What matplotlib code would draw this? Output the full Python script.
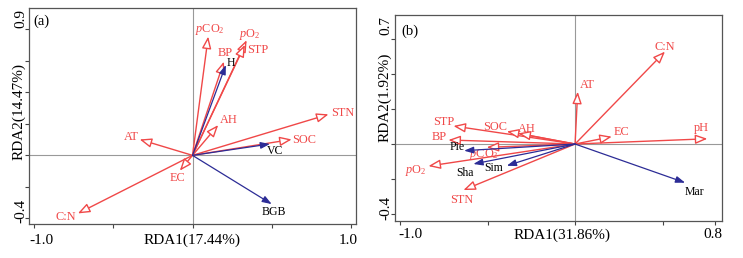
import matplotlib.pyplot as plt

plt.rcParams['font.family'] = 'Liberation Serif'
plt.rcParams['mathtext.fontset'] = 'custom'
plt.rcParams['mathtext.rm'] = 'Liberation Serif'
plt.rcParams['mathtext.it'] = 'Liberation Serif:italic'

RED = '#f04848'
BLUE = '#2c2c96'
PCO2 = r'$p$CO$_2$'
PO2 = r'$p$O$_2$'

# panel (a): environmental arrows (red) and response arrows (blue)
a_env = ['AT', 'EC', 'C:N', PCO2, PO2, 'STP', 'BP', 'AH', 'STN', 'SOC']
a_env_x = [-0.333, -0.080, -0.722, 0.099, 0.341, 0.330, 0.198, 0.162, 0.857, 0.625]
a_env_y = [0.101, -0.097, -0.368, 0.753, 0.730, 0.700, 0.594, 0.192, 0.260, 0.101]
a_resp = ['H', 'VC', 'BGB']
a_resp_x = [0.210, 0.488, 0.499]
a_resp_y = [0.573, 0.072, -0.309]

# panel (b)
b_env = ['C:N', 'AT', 'pH', 'EC', 'STP', 'SOC', 'AH', 'BP', PCO2, PO2, 'STN']
b_env_x = [0.514, 0.015, 0.756, 0.210, -0.695, -0.390, -0.324, -0.724, -0.505, -0.838, -0.638]
b_env_y = [0.528, 0.299, 0.030, 0.042, 0.103, 0.072, 0.061, 0.023, -0.019, -0.126, -0.263]
b_resp = ['Mar', 'Pie', 'Sha', 'Sim']
b_resp_x = [0.629, -0.634, -0.581, -0.390]
b_resp_y = [-0.221, -0.038, -0.114, -0.124]

# where each name is written
a_env_lab = [(-0.385, 0.114), (-0.097, -0.142), (-0.796, -0.393), (0.109, 0.795),
             (0.362, 0.767), (0.412, 0.668), (0.204, 0.651), (0.228, 0.224),
             (0.945, 0.266), (0.706, 0.097)]
a_resp_lab = [(0.240, 0.584), (0.520, 0.027), (0.514, -0.359)]
b_env_lab = [(0.514, 0.556), (0.070, 0.337), (0.720, 0.090), (0.264, 0.070),
             (-0.749, 0.128), (-0.457, 0.099), (-0.276, 0.086), (-0.775, 0.042),
             (-0.524, -0.057), (-0.909, -0.149), (-0.648, -0.320)]
b_resp_lab = [(0.680, -0.276), (-0.672, -0.019), (-0.629, -0.168), (-0.463, -0.139)]

W, H = 743, 258
fig = plt.figure(figsize=(W / 100, H / 100), dpi=100)


def px(x, y):
    return x / W, 1 - y / H


def arrows(ax, xs, ys, names, labs, env):
    for x, y, n, (lx, ly) in zip(xs, ys, names, labs):
        if env:
            ax.annotate('', xy=(x, y), xytext=(0, 0),
                        arrowprops=dict(arrowstyle='-|>,head_length=0.9,head_width=0.35',
                                        mutation_scale=8, shrinkA=0, shrinkB=0,
                                        ec=RED, fc='white', lw=1.0))
            ax.text(lx, ly, n, color=RED, fontsize=8.8, ha='center', va='center')
        else:
            ax.annotate('', xy=(x, y), xytext=(0, 0),
                        arrowprops=dict(arrowstyle='-|>,head_length=0.7,head_width=0.25',
                                        mutation_scale=8, shrinkA=0, shrinkB=0,
                                        ec=BLUE, fc=BLUE, lw=0.9))
            ax.text(lx, ly, n, color='black', fontsize=8.5, ha='center', va='center')


def frame(ax, xlim, ylim, xt, yt):
    ax.set_xlim(xlim)
    ax.set_ylim(ylim)
    ax.axhline(0, color='#999999', lw=0.8, zorder=0)
    ax.axvline(0, color='#999999', lw=0.8, zorder=0)
    ax.set_xticks(xt)
    ax.set_yticks(yt)
    ax.set_xticklabels([])
    ax.set_yticklabels([])
    ax.tick_params(direction='out', length=3, width=0.8, color='#444444')
    for s in ax.spines.values():
        s.set_color('#555555')
        s.set_linewidth(0.9)


# panel (a)
ax1 = fig.add_axes([29 / W, 1 - 224 / H, (356 - 29) / W, (224 - 8.3) / H])
frame(ax1, (-1.03, 1.03), (-0.435, 0.932), [-1, -0.5, 0, 0.5, 1],
      [-0.4, -0.2, 0, 0.2, 0.4, 0.6, 0.8])
arrows(ax1, a_env_x, a_env_y, a_env, a_env_lab, True)
arrows(ax1, a_resp_x, a_resp_y, a_resp, a_resp_lab, False)
ax1.text(0.012, 0.97, '(a)', transform=ax1.transAxes, fontsize=10.5, va='top')

fig.text(*px(41, 240), '-1.0', fontsize=11, ha='center', va='center')
fig.text(*px(348, 240), '1.0', fontsize=11, ha='center', va='center')
fig.text(*px(192, 240), 'RDA1(17.44%)', fontsize=11, ha='center', va='center')
fig.text(*px(21, 18.5), '0.9', fontsize=11, ha='center', va='center', rotation=90)
fig.text(*px(21, 211), '-0.4', fontsize=11, ha='center', va='center', rotation=90)
fig.text(*px(19, 112), 'RDA2(14.47%)', fontsize=11, ha='center', va='center', rotation=90)

# panel (b)
ax2 = fig.add_axes([395 / W, 1 - 220.7 / H, (721.7 - 395) / W, (220.7 - 15) / H])
frame(ax2, (-1.029, 0.838), (-0.438, 0.737), [-1, -0.5, 0, 0.5, 0.8],
      [-0.4, -0.2, 0, 0.2, 0.4, 0.6])
arrows(ax2, b_env_x, b_env_y, b_env, b_env_lab, True)
arrows(ax2, b_resp_x, b_resp_y, b_resp, b_resp_lab, False)
ax2.text(0.02, 0.955, '(b)', transform=ax2.transAxes, fontsize=10.5, va='top')

fig.text(*px(410, 235), '-1.0', fontsize=11, ha='center', va='center')
fig.text(*px(713, 235), '0.8', fontsize=11, ha='center', va='center')
fig.text(*px(562, 235), 'RDA1(31.86%)', fontsize=11, ha='center', va='center')
fig.text(*px(386, 25.7), '0.7', fontsize=11, ha='center', va='center', rotation=90)
fig.text(*px(386, 208), '-0.4', fontsize=11, ha='center', va='center', rotation=90)
fig.text(*px(385, 97), 'RDA2(1.92%)', fontsize=11, ha='center', va='center', rotation=90)

fig.savefig('out.png', dpi=100)
